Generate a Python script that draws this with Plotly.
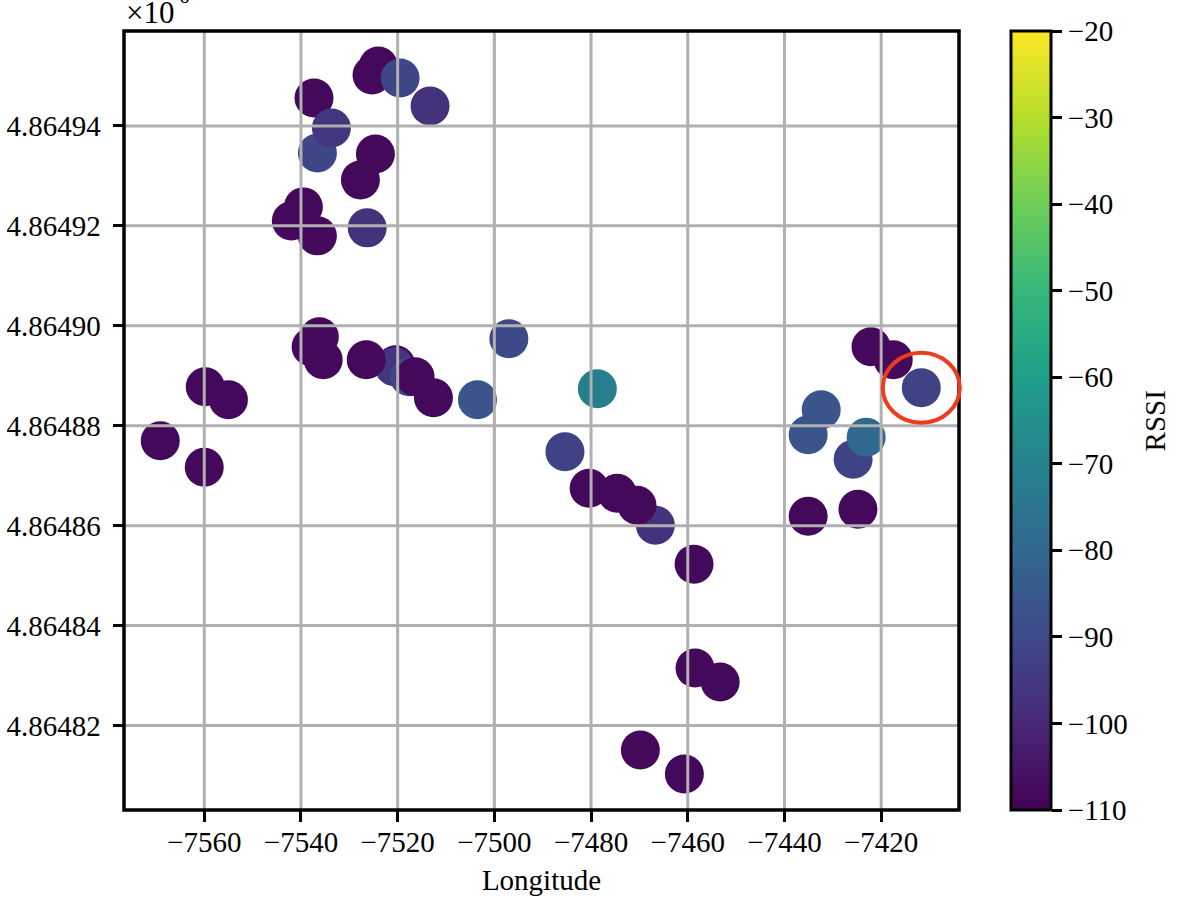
# -*- coding: utf-8 -*-
# RSSI readings by position, coloured with viridis

import plotly.graph_objects as go

# data
lon = [-7525.3, -7524.0, -7519.5, -7513.3, -7537.3, -7536.6, -7533.7, -7524.6, -7527.7,
       -7539.5, -7542.0, -7536.6, -7526.3, -7536.2, -7537.9, -7535.4, -7520.4, -7520.7,
       -7517.6, -7526.5, -7516.4, -7512.6, -7503.5, -7497.0, -7478.7, -7485.4, -7466.7,
       -7480.4, -7474.6, -7470.5, -7458.7, -7458.5, -7453.3, -7469.8, -7460.7, -7559.8,
       -7555.0, -7569.1, -7560.0, -7432.4, -7435.1, -7425.8, -7423.1, -7435.1, -7424.8,
       -7417.5, -7422.1, -7411.7]
lat = [4864950.2, 4864952.0, 4864949.6, 4864944.0, 4864945.6, 4864934.6, 4864939.6, 4864934.4, 4864929.2,
       4864923.8, 4864921.0, 4864918.0, 4864919.6, 4864897.8, 4864895.8, 4864893.2, 4864892.2, 4864891.8,
       4864889.8, 4864893.2, 4864889.8, 4864885.6, 4864885.2, 4864897.4, 4864887.4, 4864874.8, 4864860.1,
       4864867.5, 4864866.5, 4864864.1, 4864852.3, 4864831.5, 4864828.7, 4864815.1, 4864810.3, 4864887.8,
       4864885.2, 4864877.0, 4864871.7, 4864883.2, 4864878.2, 4864873.3, 4864877.7, 4864861.9, 4864863.3,
       4864893.2, 4864895.8, 4864887.6]
rssi = [-108, -108, -91, -97, -108, -91, -96, -108, -108,
        -108, -108, -108, -97, -108, -108, -108, -108, -96,
        -91, -108, -108, -108, -86, -90, -71, -92, -97,
        -108, -108, -108, -108, -108, -108, -108, -108, -108,
        -108, -108, -108, -86, -86, -92, -80, -108, -108,
        -108, -108, -92]

# axes
x_range = [-7576.6, -7403.9]
y_range = [4864803.1, 4864959.0]
x_ticks = [-7560, -7540, -7520, -7500, -7480, -7460, -7440, -7420]
y_ticks = [4864820, 4864840, 4864860, 4864880, 4864900, 4864920, 4864940]
y_labels = ["4.86482", "4.86484", "4.86486", "4.86488", "4.86490", "4.86492", "4.86494"]
rssi_ticks = [-110, -100, -90, -80, -70, -60, -50, -40, -30, -20]

FONT = "Liberation Serif"
GRID = "#b0b0b0"
SIZE = 29

fig = go.Figure()

fig.add_trace(go.Scatter(x=lon, y=lat,
                         mode="markers",
                         marker=dict(size=39, color=rssi, colorscale="Viridis",
                                     cmin=-110, cmax=-20, line=dict(width=0),
                                     colorbar=dict(x=1.0622, xanchor="left", xpad=0,
                                                   y=0.5, yanchor="middle", ypad=0,
                                                   len=1, lenmode="fraction",
                                                   thickness=40, thicknessmode="pixels",
                                                   tickvals=rssi_ticks, ticks="outside",
                                                   ticklen=10, tickwidth=2.7, tickcolor="black",
                                                   outlinewidth=3, outlinecolor="black",
                                                   tickfont=dict(size=SIZE, family=FONT)))))

# the grid sits on top of the points here, so it has to be shapes
for x in x_ticks:
    fig.add_vline(x=x, line=dict(color=GRID, width=3), layer="above")
for y in y_ticks:
    fig.add_hline(y=y, line=dict(color=GRID, width=3), layer="above")

# frame, over the grid ends
fig.add_shape(type="rect", layer="above", xref="paper", yref="paper",
              x0=0, x1=1, y0=0, y1=1, line=dict(color="black", width=3.5))

# red ring round the last reading
fig.add_shape(type="circle", layer="above",
              xref="paper", yref="paper",
              xsizemode="pixel", ysizemode="pixel",
              xanchor=(lon[-1] - x_range[0]) / (x_range[1] - x_range[0]),
              yanchor=(lat[-1] - y_range[0]) / (y_range[1] - y_range[0]),
              x0=-38.5, x1=38.5, y0=-35, y1=35,
              line=dict(color="#ee3b1e", width=4))

fig.add_annotation(text="×10", xref="paper", yref="paper",
                   x=0, y=1, xanchor="left", yanchor="bottom", showarrow=False,
                   yshift=-1, font=dict(size=31, family=FONT, color="black"))
fig.add_annotation(text="6", xref="paper", yref="paper",
                   x=0.064, y=1, xanchor="left", yanchor="bottom", showarrow=False,
                   yshift=21, font=dict(size=21, family=FONT, color="black"))
fig.add_annotation(text="RSSI", xref="paper", yref="paper",
                   x=1.2346, y=0.5, xanchor="center", yanchor="middle", showarrow=False,
                   textangle=-90, font=dict(size=SIZE, family=FONT, color="black"))

fig.update_layout(width=1196, height=910,
                  margin=dict(l=123.5, r=237, t=31, b=100),
                  plot_bgcolor="white", paper_bgcolor="white",
                  showlegend=False,
                  font=dict(family=FONT, size=SIZE, color="black"))

fig.update_xaxes(range=x_range, tickvals=x_ticks, automargin=False,
                 title=dict(text="Longitude", standoff=12, font=dict(size=SIZE, family=FONT)),
                 showgrid=False, zeroline=False, showline=False, ticklabelstandoff=-4,
                 ticks="outside", ticklen=10.5, tickwidth=2.7, tickcolor="black")
fig.update_yaxes(range=y_range, tickvals=y_ticks, ticktext=y_labels, automargin=False,
                 showgrid=False, zeroline=False, showline=False, ticklabelstandoff=6,
                 ticks="outside", ticklen=10.5, tickwidth=2.7, tickcolor="black")

fig.write_html("out.html", config={"displayModeBar": False},
               post_script="document.body.style.margin='0';")
